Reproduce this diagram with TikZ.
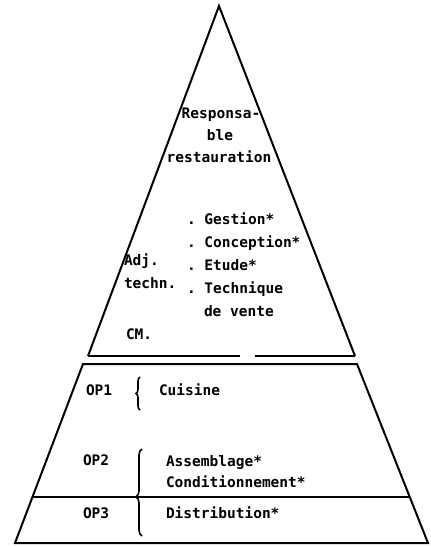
\documentclass[tikz,border=0pt]{standalone}
\usepackage{fontspec}
\setmonofont{DejaVu Sans Mono}
\usetikzlibrary{decorations.pathreplacing}
\tikzset{
  lbl/.style={font=\ttfamily\bfseries\fontsize{14.5}{17}\selectfont, inner sep=0pt, anchor=mid west},
  ctr/.style={lbl, anchor=mid},
  brc/.style={decorate, decoration={brace, amplitude=#1}, line width=1.6pt}
}
\begin{document}
\begin{tikzpicture}[x=1pt,y=-1pt,line width=2pt]
\useasboundingbox (0,0) rectangle (431,547);
% upper triangle
\coordinate (apex) at (219,6);
\coordinate (tl) at (88,356);
\coordinate (tr) at (355,356);
\coordinate (gapl) at (240,356);
\coordinate (gapr) at (255,356);
\draw (tl) -- (apex) -- (tr);
\draw (tl) -- (gapl);
\draw (gapr) -- (tr);
% lower trapezoid
\coordinate (bl) at (83,364);
\coordinate (br) at (357,364);
\coordinate (br2) at (428,543);
\coordinate (bl2) at (15,543);
\coordinate (dl) at (32.5,497);
\coordinate (dr) at (410,497);
\draw (bl) -- (br) -- (br2) -- (bl2) -- cycle;
\draw (dl) -- (dr);
% texts
\node[ctr] (resp) at (221,116) {Responsa-};
\node[ctr] (ble) at (220,138) {ble};
\node[ctr] (rest) at (219,160) {restauration};
\node[lbl] (gest) at (186,222) {. Gestion*};
\node[lbl] (conc) at (186,245) {. Conception*};
\node[lbl] (etud) at (186,268) {. Etude*};
\node[lbl] (tech) at (186,291) {. Technique};
\node[lbl] (vente) at (203,314) {de vente};
\node[lbl] (adj) at (123,263) {Adj.};
\node[lbl] (techn) at (123,286) {techn.};
\node[lbl] (cm) at (125,337) {CM.};
\node[lbl] (op1) at (85,393) {OP1};
\node[lbl] (cuis) at (158,393) {Cuisine};
\node[lbl] (op2) at (82,463) {OP2};
\node[lbl] (ass) at (165,464) {Assemblage*};
\node[lbl] (cond) at (165,485) {Conditionnement*};
\node[lbl] (op3) at (82,516) {OP3};
\node[lbl] (dist) at (165,516) {Distribution*};
% braces
\coordinate (b1s) at (140,410);
\coordinate (b1e) at (140,377);
\draw[brc=4pt] (b1s) -- (b1e);
\coordinate (b2s) at (142,536);
\coordinate (b2e) at (142,449);
\draw[brc=6pt, decoration={aspect=0.45}] (b2s) -- (b2e);
\end{tikzpicture}
\end{document}
